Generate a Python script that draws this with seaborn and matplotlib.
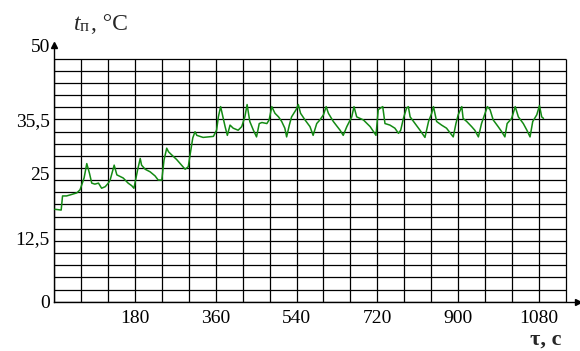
import numpy as np
import pandas as pd
import matplotlib
matplotlib.use("Agg")
import matplotlib.pyplot as plt
import seaborn as sns

# ---- data ----
time_s = [2, 16, 19, 28, 36, 51, 58, 67, 73, 79, 84, 91, 99, 106, 114, 121, 125, 134, 140, 147,
          154, 165, 173, 178, 186, 192, 195, 203, 214, 225, 232, 240, 245, 251, 255, 262, 273, 284,
          292, 299, 303, 309, 314, 318, 325, 332, 344, 355, 362, 366, 371, 376, 381, 386, 392, 399,
          410, 418, 425, 430, 436, 444, 451, 457, 463, 474, 479, 485, 492, 500, 507, 514, 518, 524,
          529, 539, 544, 549, 559, 570, 577, 585, 592, 600, 606, 611, 622, 637, 644, 652, 663, 668,
          674, 689, 704, 717, 722, 727, 732, 737, 748, 759, 767, 772, 778, 785, 789, 793, 804, 815,
          826, 834, 841, 845, 852, 863, 874, 889, 895, 900, 908, 911, 919, 930, 937, 945, 952, 960,
          965, 971, 978, 989, 997, 1004, 1009, 1019, 1027, 1034, 1045, 1053, 1060, 1066, 1075, 1081,
          1086, 1090]
temp_c = [18.0, 17.85, 20.6, 20.6, 20.8, 21.2, 21.8, 24.1, 26.9, 25.0, 23.1, 22.9, 23.1, 22.1, 22.4,
          23.1, 23.7, 26.6, 24.7, 24.4, 24.1, 23.1, 22.6, 22.1, 25.6, 27.9, 26.6, 25.8, 25.3, 24.5,
          23.7, 23.7, 27.6, 29.9, 29.2, 28.6, 27.7, 26.6, 25.8, 26.3, 28.6, 31.9, 33.1, 32.4, 32.2,
          32.0, 32.1, 32.2, 33.4, 36.0, 38.0, 36.0, 34.1, 32.4, 34.4, 33.8, 33.4, 34.1, 36.0, 38.4,
          35.1, 33.4, 32.1, 34.7, 34.9, 34.7, 35.4, 38.0, 36.7, 36.0, 35.1, 33.8, 32.1, 34.4, 36.0,
          37.4, 38.4, 36.7, 35.4, 34.1, 32.4, 34.7, 35.4, 36.4, 38.0, 36.7, 35.1, 33.4, 32.4, 34.1,
          36.0, 38.0, 36.0, 35.4, 34.1, 32.4, 37.4, 37.7, 38.0, 34.7, 34.4, 33.8, 32.8, 33.4, 35.7,
          37.7, 38.0, 36.0, 34.7, 33.4, 32.0, 35.1, 36.7, 38.0, 35.1, 34.4, 33.8, 32.1, 34.7, 36.4,
          38.0, 35.7, 35.1, 34.1, 33.4, 32.1, 34.7, 36.7, 38.0, 37.4, 35.4, 34.1, 33.1, 32.1, 34.7,
          35.7, 38.0, 36.0, 34.7, 33.4, 32.1, 35.1, 36.4, 38.2, 36.0, 35.7]
x_ticks = [180, 360, 540, 720, 900, 1080]
x_tick_labels = ["180", "360", "540", "720", "900", "1080"]
y_ticks = [0, 12.5, 25, 35.5, 50]
y_tick_labels = ["0", "12,5", "25", "35,5", "50"]

df = pd.DataFrame({"t": time_s, "temp": temp_c})

sns.set_style("white")
plt.rcParams["font.family"] = ["Liberation Serif", "DejaVu Serif"]

W, H = 580, 351
fig = plt.figure(figsize=(W / 100, H / 100), dpi=100)
ax_l, ax_b, ax_r, ax_t = 54, 301.7, 578, 45
ax = fig.add_axes([ax_l / W, 1 - ax_b / H, (ax_r - ax_l) / W, (ax_b - ax_t) / H])

x_max_grid = 1140
grid_step_y = 35.5 / 15
y_grid = [i * grid_step_y for i in range(21)]
x_grid = list(range(0, x_max_grid + 1, 60))

ax.set_xlim(0, 1166.8)
ax.set_ylim(0, 50)

ax.hlines(y_grid, 0, x_max_grid, color="black", lw=0.9, zorder=1)
ax.vlines(x_grid, 0, y_grid[-1], color="black", lw=0.9, zorder=1)

sns.lineplot(data=df, x="t", y="temp", ax=ax, color="#138a13", lw=1.1,
             estimator=None, sort=False, zorder=3)

for s in ["top", "right"]:
    ax.spines[s].set_visible(False)
for s in ["left", "bottom"]:
    ax.spines[s].set_color("black")
    ax.spines[s].set_linewidth(1.0)

ax.plot(0, 1, marker="^", color="black", ms=5, transform=ax.get_xaxis_transform(), clip_on=False)
ax.plot(1, 0, marker=">", color="black", ms=5, transform=ax.get_yaxis_transform(), clip_on=False)

ax.set_xticks(x_ticks)
ax.set_xticklabels(x_tick_labels)
ax.set_yticks(y_ticks)
ax.set_yticklabels(y_tick_labels)
ax.tick_params(axis="both", length=0, labelsize=14, colors="black")
ax.tick_params(axis="x", pad=6)
ax.tick_params(axis="y", pad=3)
ax.set_xlabel("")
ax.set_ylabel("")
ax.grid(False)

# axis titles
fig.text(74 / W, 1 - 30 / H, "t", fontsize=17, fontstyle="italic", va="baseline", ha="left")
fig.text(80 / W, 1 - 31 / H, "п", fontsize=12, va="baseline", ha="left")
fig.text(91 / W, 1 - 30 / H, ", °C", fontsize=17, va="baseline", ha="left")
fig.text(561 / W, 1 - 345 / H, "τ, с", fontsize=16, fontweight="bold", va="baseline", ha="right")

fig.savefig("out.png", dpi=100, facecolor="white")
